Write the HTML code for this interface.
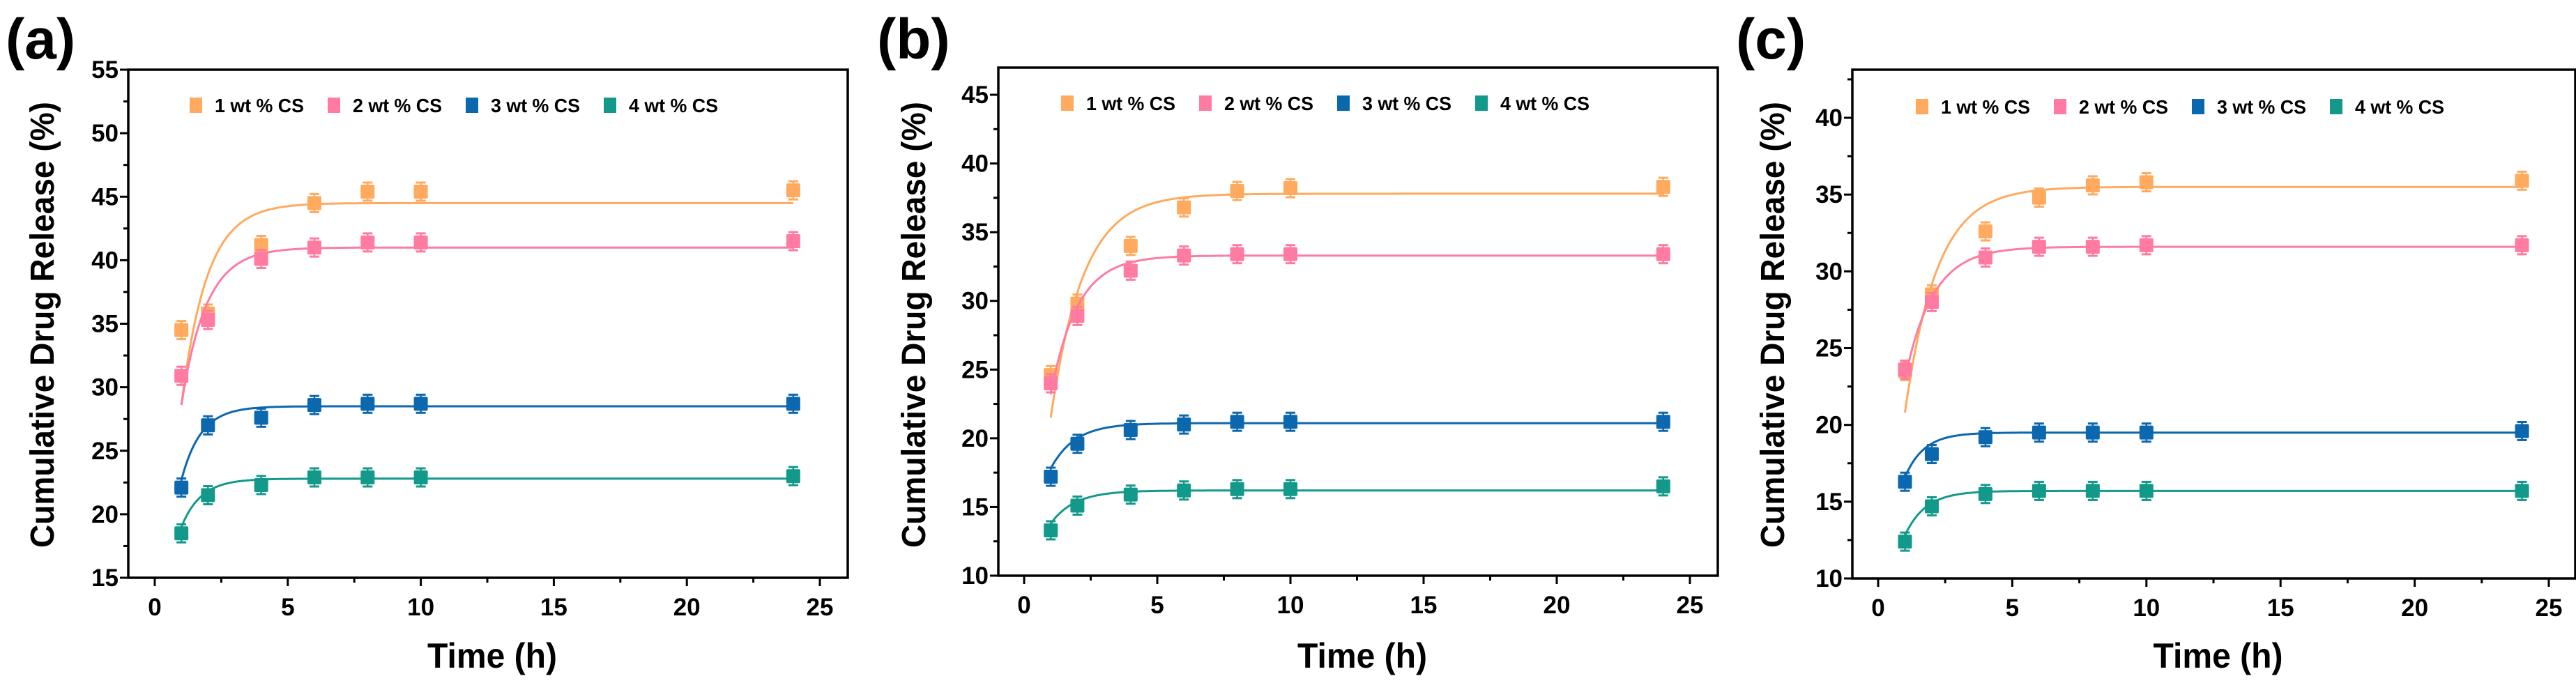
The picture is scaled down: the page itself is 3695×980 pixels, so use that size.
<!DOCTYPE html>
<html><head><meta charset="utf-8"><style>
html,body{margin:0;padding:0;background:#fff;overflow:hidden}
svg{display:block}
text{font-family:"Liberation Sans",Arial,sans-serif;font-weight:bold;fill:#000}
</style></head><body>
<svg id="fig" width="3695" height="980" viewBox="0 0 3695 980"></svg>
<script>
const times = [1, 2, 4, 6, 8, 10, 24];
const seriesNames = ["1 wt % CS", "2 wt % CS", "3 wt % CS", "4 wt % CS"];
const seriesColors = ["#FFAA5E", "#FF7BA1", "#0B67AE", "#12998A"];
const xTicks = [0, 5, 10, 15, 20, 25];
// panel a
const aValues1 = [34.5, 35.8, 41.2, 44.5, 45.4, 45.4, 45.5];
const aValues2 = [30.9, 35.3, 40.1, 41.0, 41.4, 41.4, 41.5];
const aValues3 = [22.1, 27.0, 27.6, 28.6, 28.7, 28.7, 28.7];
const aValues4 = [18.5, 21.5, 22.3, 22.9, 22.9, 22.9, 23.0];
const aPlateau = [44.5, 41.0, 28.5, 22.8];
const aStart = [28.6, 28.6, 22.7, 19.0];
const aRate = [1.04, 1.07, 1.35, 1.35];
const aYTicks = [15, 20, 25, 30, 35, 40, 45, 50, 55];
// panel b
const bValues1 = [24.6, 29.8, 34.0, 36.8, 38.0, 38.2, 38.3];
const bValues2 = [24.0, 28.9, 32.2, 33.3, 33.4, 33.4, 33.4];
const bValues3 = [17.2, 19.6, 20.6, 21.0, 21.2, 21.2, 21.2];
const bValues4 = [13.3, 15.1, 15.9, 16.2, 16.3, 16.3, 16.5];
const bPlateau = [37.8, 33.3, 21.1, 16.2];
const bStart = [21.5, 23.2, 17.8, 13.8];
const bRate = [0.82, 1.0, 1.1, 1.1];
const bYTicks = [10, 15, 20, 25, 30, 35, 40, 45];
// panel c
const cValues1 = [23.5, 28.5, 32.6, 34.8, 35.6, 35.8, 35.9];
const cValues2 = [23.6, 28.0, 30.9, 31.6, 31.6, 31.7, 31.7];
const cValues3 = [16.3, 18.1, 19.2, 19.5, 19.5, 19.5, 19.6];
const cValues4 = [12.4, 14.7, 15.5, 15.7, 15.7, 15.7, 15.7];
const cPlateau = [35.5, 31.6, 19.5, 15.7];
const cStart = [20.8, 23.0, 16.6, 12.8];
const cRate = [0.84, 0.96, 1.4, 1.3];
const cYTicks = [10, 15, 20, 25, 30, 35, 40];

const NS = "http://www.w3.org/2000/svg";
const svg = document.getElementById("fig");
function mk(tag, attrs, parent) {
  const e = document.createElementNS(NS, tag);
  for (const k in attrs) e.setAttribute(k, attrs[k]);
  (parent || svg).appendChild(e);
  return e;
}

const panels = [
  {id:"a", label:"(a)", lx:8, box:[184,100,1216,829], x0:222, x25:1176, ymin:15, ymax:55, ytop:100, ybot:829,
   vals:[aValues1,aValues2,aValues3,aValues4], P:aPlateau, S:aStart, K:aRate, yt:aYTicks, legY:151, legX:272},
  {id:"b", label:"(b)", lx:1258, box:[1432,97,2464,826], x0:1469, x25:2424, ymin:10, ymax:45, ytop:136, ybot:826,
   vals:[bValues1,bValues2,bValues3,bValues4], P:bPlateau, S:bStart, K:bRate, yt:bYTicks, legY:148, legX:1522},
  {id:"c", label:"(c)", lx:2490, box:[2657,100,3694,830], x0:2694, x25:3656, ymin:10, ymax:40, ytop:169, ybot:830,
   vals:[cValues1,cValues2,cValues3,cValues4], P:cPlateau, S:cStart, K:cRate, yt:cYTicks, legY:153, legX:2748}
];

panels.forEach(p => {
  const g = mk("g", {});
  
  
  const xs = t => p.x0 + (p.x25 - p.x0) * t / 25;
  const ys = v => p.ybot - (p.ybot - p.ytop) * (v - p.ymin) / (p.ymax - p.ymin);
  const [L, T, R, B] = p.box;

  const lab = mk("text", {x:p.lx, y:84, "font-size":82}, g);
  lab.textContent = p.label;
  
  

  const frame = mk("rect", {x:L, y:T, width:R-L, height:B-T, fill:"none", stroke:"#000", "stroke-width":3.5}, g);
  
  

  xTicks.forEach(t => {
    mk("line", {x1:xs(t), y1:B, x2:xs(t), y2:B+12, stroke:"#000", "stroke-width":3}, g);
    const tl = mk("text", {x:xs(t), y:B+54, "font-size":35, "text-anchor":"middle"}, g);
    tl.textContent = t;
    
    
  });
  for (let t = 2.5; t < 25; t += 5) mk("line", {x1:xs(t), y1:B, x2:xs(t), y2:B+7, stroke:"#000", "stroke-width":3}, g);
  p.yt.forEach(v => {
    mk("line", {x1:L, y1:ys(v), x2:L-12, y2:ys(v), stroke:"#000", "stroke-width":3}, g);
    const tl = mk("text", {x:L-14, y:ys(v)+12, "font-size":35, "text-anchor":"end"}, g);
    tl.textContent = v;
    
    
  });
  for (let v = p.ymin + 2.5; ys(v) > T; v += 5) {
    mk("line", {x1:L, y1:ys(v), x2:L-7, y2:ys(v), stroke:"#000", "stroke-width":3}, g);
  }

  const xt = mk("text", {x:(L+R)/2 + 6, y:958, "font-size":50, "text-anchor":"middle", textLength:186, lengthAdjust:"spacingAndGlyphs"}, g);
  xt.textContent = "Time (h)";
  
  
  const ycx = p.lx + 52, ycy = 466;
  const yt = mk("text", {x:ycx, y:ycy, "font-size":48, "text-anchor":"middle", transform:`rotate(-90 ${ycx} ${ycy})`, dy:17, textLength:640, lengthAdjust:"spacingAndGlyphs"}, g);
  yt.textContent = "Cumulative Drug Release (%)";
  
  

  p.vals.forEach((vals, si) => {
    const col = seriesColors[si];
    let d = "";
    for (let t = 1; t <= 24.001; t += 0.05) {
      const v = p.P[si] - (p.P[si] - p.S[si]) * Math.exp(-p.K[si] * (t - 1));
      d += (d ? "L" : "M") + xs(t).toFixed(1) + "," + ys(v).toFixed(1);
    }
    const path = mk("path", {d:d, fill:"none", stroke:col, "stroke-width":3}, g);
    
    
    vals.forEach((v, i) => {
      const cx = xs(times[i]), cy = ys(v);
      mk("line", {x1:cx, y1:cy-13, x2:cx, y2:cy+13, stroke:col, "stroke-width":2.5}, g);
      mk("line", {x1:cx-7, y1:cy-13, x2:cx+7, y2:cy-13, stroke:col, "stroke-width":3}, g);
      mk("line", {x1:cx-7, y1:cy+13, x2:cx+7, y2:cy+13, stroke:col, "stroke-width":3}, g);
      const r = mk("rect", {x:cx-10, y:cy-10, width:20, height:20, rx:2, fill:col}, g);
      
      
    });
  });

  seriesNames.forEach((n, si) => {
    const x = p.legX + si * 198;
    const m = mk("rect", {x:x, y:p.legY-11, width:18, height:22, fill:seriesColors[si]}, g);
    
    
    const t = mk("text", {x:x+36, y:p.legY+10, "font-size":28, textLength:128, lengthAdjust:"spacingAndGlyphs"}, g);
    t.textContent = n;
    
    
  });
});
</script>
</body></html>
